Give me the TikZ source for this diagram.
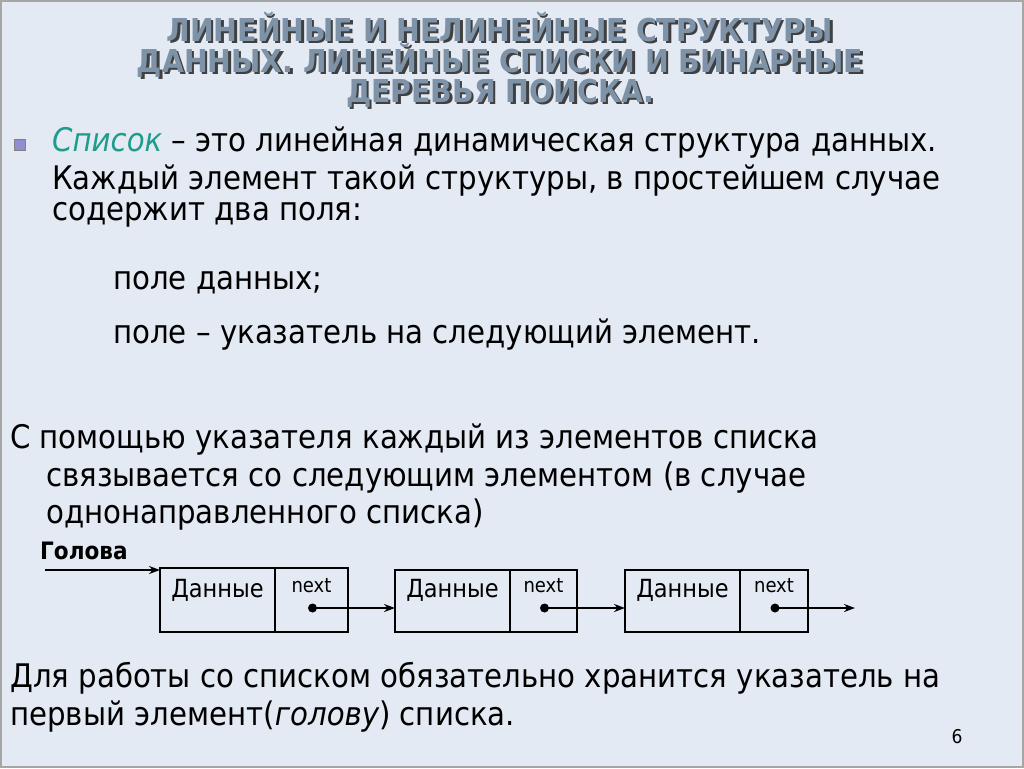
\documentclass[tikz,border=0pt]{standalone}
\usepackage{fontspec}
\setmainfont{DejaVu Sans Condensed}
\usetikzlibrary{arrows.meta}
\definecolor{bg}{HTML}{E4EAF3}
\definecolor{titc}{HTML}{7E93A8}
\definecolor{teal}{HTML}{1E9C8C}
\definecolor{bul}{HTML}{8F8FD0}
\tikzset{
 tl/.style={font=\bfseries\fontsize{31.5}{34}\selectfont, text=titc, anchor=center, inner sep=0},
 tls/.style={font=\bfseries\fontsize{31.5}{34}\selectfont, text=black!75, anchor=center, inner sep=0},
 bt/.style={font=\fontsize{32.5}{36}\selectfont, anchor=west, inner sep=0},
 lbl/.style={font=\fontsize{25}{28}\selectfont},
 nx/.style={font=\fontsize{20}{22}\selectfont},
 ar/.style={line width=2pt, -{Stealth[length=11pt,width=8pt]}}
}
\begin{document}
\begin{tikzpicture}[x=1pt,y=-1pt]
\useasboundingbox (0,0) rectangle (1024,768);
\fill[bg] (0,0) rectangle (1024,768);
\draw[gray!70, line width=1.5pt] (1,1) rectangle (1023,767);
\foreach \y/\t in {27/ЛИНЕЙНЫЕ И НЕЛИНЕЙНЫЕ СТРУКТУРЫ, 60/ДАННЫХ. ЛИНЕЙНЫЕ СПИСКИ И БИНАРНЫЕ, 93/ДЕРЕВЬЯ ПОИСКА.}{
 \node[tls] at (502.5,\y+2.5) {\t};
 \node[tl] at (500,\y) {\t};
}
\fill[bul, draw=black!50] (14,139) rectangle (25,150);
\node[bt] (l1) at (52,143) {{\itshape\color{teal}Список} – это линейная динамическая структура данных.};
\node[bt] (l2) at (52,181) {Каждый элемент такой структуры, в простейшем случае};
\node[bt] (l3) at (52,215) {содержит два поля:};
\node[bt] (l4) at (113,283) {поле данных;};
\node[bt] (l5) at (113,335) {поле – указатель на следующий элемент.};
\node[bt] (l6) at (10,440) {С помощью указателя каждый из элементов списка};
\node[bt] (l7) at (46,478) {связывается со следующим элементом (в случае};
\node[bt] (l8) at (46,515) {однонаправленного списка)};
\node[font=\bfseries\fontsize{24}{26}\selectfont, anchor=west, inner sep=0] (head) at (40,551) {Голова};
\node[bt] (l9) at (10,678) {Для работы со списком обязательно хранится указатель на};
\node[bt] (l10) at (10,717) {первый элемент({\itshape голову}) списка.};
\node[font=\fontsize{19}{20}\selectfont] (pg) at (957,737) {6};
\foreach \i/\a/\d/\b/\yt in {1/160/275/348/568, 2/395/510/577/570, 3/625/740/808/570}{
 \draw[line width=2pt] (\a,\yt) rectangle (\b,632);
 \draw[line width=2pt] (\d,\yt) -- (\d,632);
 \node[lbl] (d\i) at ({(\a+\d)/2},590) {Данные};
 \node[nx] (n\i) at ({(\d+\b)/2},586) {next};
 \coordinate (p\i) at ({(\d+\b)/2+1},608);
 \coordinate (in\i) at (\a,608);
}
\coordinate (hs) at (45,570);
\coordinate (he) at (160,570);
\coordinate (end) at (855,608);
\draw[ar] (hs) -- (he);
\foreach \i/\j in {1/2,2/3}{\fill (p\i) circle (4.5pt); \draw[ar] (p\i) -- (in\j);}
\fill (p3) circle (4.5pt); \draw[ar] (p3) -- (end);
\end{tikzpicture}
\end{document}
